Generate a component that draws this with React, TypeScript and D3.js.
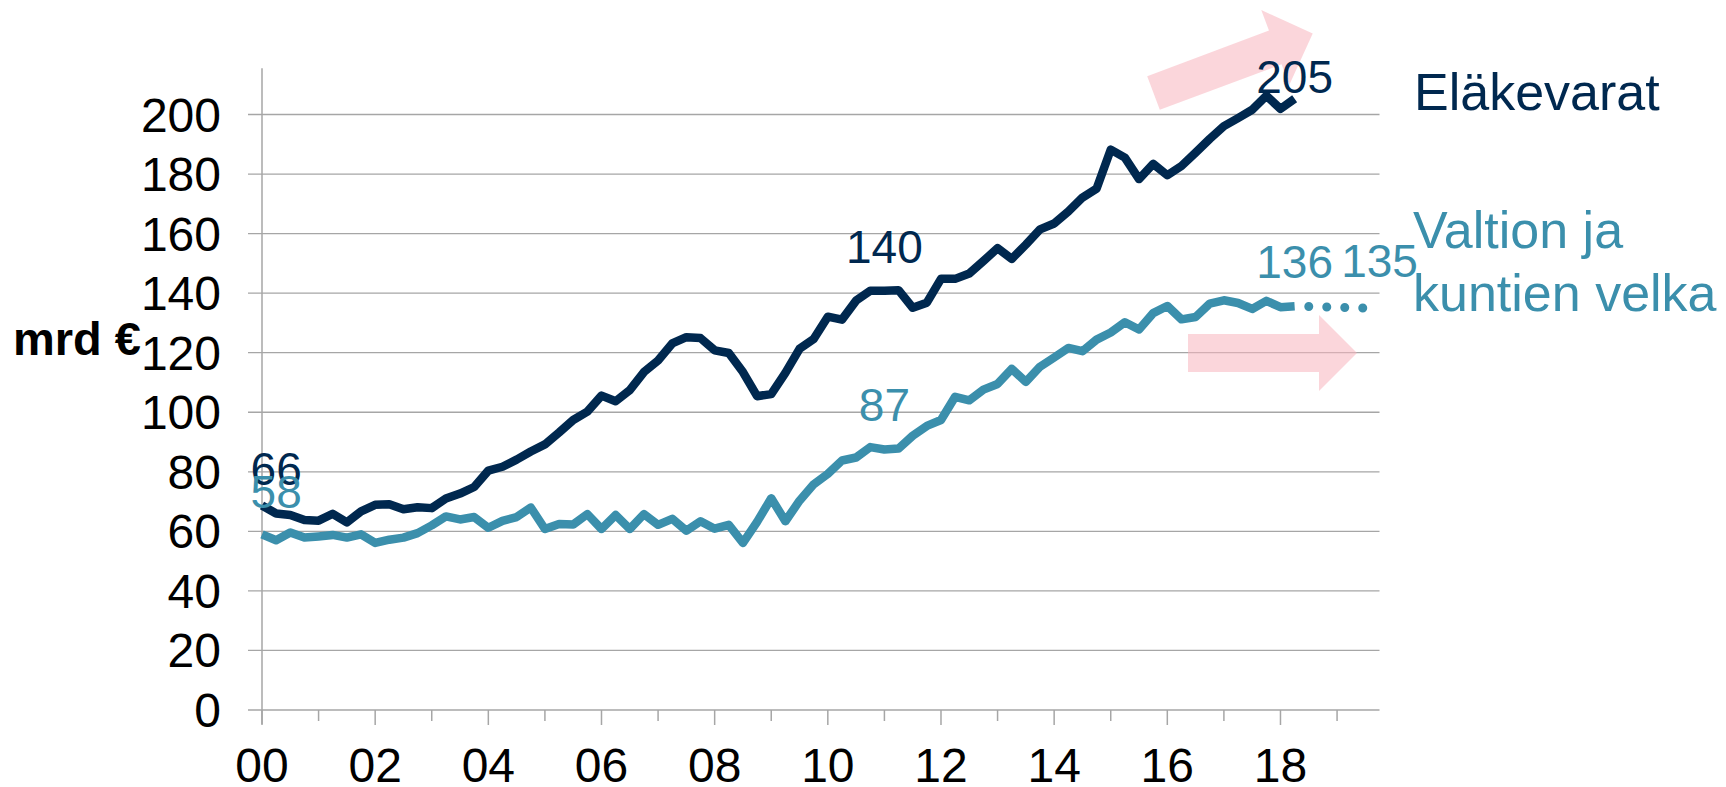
import React from "react";
import * as d3 from "d3";

// ---- Data (billion €, quarterly 2000Q1 … 2018Q2) ----
const years: number[] = [2000, 2001, 2002, 2003, 2004, 2005, 2006, 2007, 2008, 2009, 2010, 2011, 2012, 2013, 2014, 2015, 2016, 2017, 2018, 2019];
const quarterNames: string[] = ["Q1", "Q2", "Q3", "Q4"];
const categories: string[] = years.flatMap((y) => quarterNames.map((q) => `${y}${q}`));

const elakevarat: number[] = [
  68.7, 66.0, 65.5, 63.8, 63.6, 65.9, 63.0, 66.7, 68.9, 69.1, 67.4, 68.1, 67.8, 71.0, 72.7, 74.9,
  80.4, 81.7, 84.1, 86.8, 89.2, 93.2, 97.4, 100.2, 105.6, 103.7, 107.4, 113.5, 117.4, 123.1, 125.2, 124.9,
  120.8, 119.9, 113.5, 105.4, 106.1, 113.2, 121.3, 124.6, 132.1, 131.1, 137.5, 140.8, 140.8, 141.0, 135.1, 136.8,
  144.8, 144.8, 146.6, 150.8, 155.1, 151.5, 156.3, 161.4, 163.4, 167.4, 172.1, 175.1, 188.2, 185.5, 178.3, 183.4,
  179.6, 182.7, 187.2, 191.8, 196.1, 198.8, 201.6, 206.3, 201.9, 205.3,
];

const velka: number[] = [
  59.0, 57.0, 59.6, 57.9, 58.3, 58.8, 57.9, 59.0, 56.1, 57.2, 57.9, 59.4, 62.0, 65.0, 64.0, 64.8,
  61.2, 63.5, 64.8, 68.0, 60.8, 62.5, 62.3, 65.8, 60.8, 65.5, 60.8, 65.8, 62.2, 64.2, 60.2, 63.4,
  60.9, 62.2, 56.1, 63.2, 71.1, 63.4, 70.3, 75.8, 79.3, 83.8, 84.8, 88.3, 87.5, 87.8, 92.1, 95.4,
  97.4, 105.2, 104.0, 107.6, 109.5, 114.6, 110.2, 115.3, 118.4, 121.6, 120.5, 124.4, 126.8, 130.2, 127.8, 133.3,
  135.7, 131.2, 132.0, 136.5, 137.6, 136.7, 134.7, 137.4, 135.3, 135.6,
];

const ennusteCategories: string[] = ["2018Q3", "2019Q3"];
const velkaEnnuste: number[] = [135.5, 135];

const yTicks: number[] = [0, 20, 40, 60, 80, 100, 120, 140, 160, 180, 200];
const xTickLabels: string[] = ["00", "02", "04", "06", "08", "10", "12", "14", "16", "18"];

type Ann = { text: string; cat: string; value: number; dy: number; series: "dark" | "light" };
const annotations: Ann[] = [
  { text: "66", cat: "2000Q2", value: 66, dy: -28, series: "dark" },
  { text: "58", cat: "2000Q2", value: 58, dy: -29, series: "light" },
  { text: "140", cat: "2011Q1", value: 140, dy: -30, series: "dark" },
  { text: "87", cat: "2011Q1", value: 87, dy: -30, series: "light" },
  { text: "205", cat: "2018Q2", value: 205, dy: -7, series: "dark" },
  { text: "136", cat: "2018Q2", value: 136, dy: -27, series: "light" },
  { text: "135", cat: "2019Q4", value: 135, dy: -31, series: "light" },
];

const DARK = "#00284f";
const LIGHT = "#3b8fac";
const GRID = "#a6a6a6";
const FONT = "'Liberation Sans', Arial, sans-serif";

function blockArrow(cx: number, cy: number, len: number, angleDeg: number, shaftW: number, headW: number, headL: number) {
  const a = (angleDeg * Math.PI) / 180;
  const ux = Math.cos(a), uy = Math.sin(a);
  const px = -uy, py = ux;
  const pts: [number, number][] = [
    [0, -shaftW / 2], [len - headL, -shaftW / 2], [len - headL, -headW / 2], [len, 0],
    [len - headL, headW / 2], [len - headL, shaftW / 2], [0, shaftW / 2],
  ];
  return pts.map(([s, t]) => `${cx + ux * s + px * t},${cy + uy * s + py * t}`).join(" ");
}

export default function App() {
  const width = 1726, height = 787;
  const x = d3.scalePoint<string>().domain(categories).range([262, 1379.5]);
  const y = d3.scaleLinear().domain([0, 200]).range([710, 114.5]);
  const plotLeft = 262, plotRight = 1379.5;
  const axisTop = y(215.5);

  const line = d3.line<number>()
    .x((_, i) => x(categories[i]) as number)
    .y((d) => y(d))
    .curve(d3.curveLinear);

  const fLine = d3.line<number>()
    .x((_, i) => x(ennusteCategories[i]) as number)
    .y((d) => y(d));

  const yearTicks = categories.filter((c) => c.endsWith("Q1"));

  return (
    <svg width={width} height={height} style={{ position: "absolute", left: 0, top: 0, background: "#fff" }}>
      {/* gridlines + y tick marks */}
      {yTicks.map((t) => (
        <line key={"g" + t} x1={plotLeft - 14} x2={plotRight} y1={y(t)} y2={y(t)} stroke={GRID} strokeWidth={1.3} />
      ))}
      {/* y axis */}
      <line x1={plotLeft} x2={plotLeft} y1={axisTop} y2={y(0) + 14} stroke={GRID} strokeWidth={1.5} />
      {/* x ticks */}
      {yearTicks.map((c, i) => (
        <line key={"xt" + c} x1={x(c)} x2={x(c)} y1={y(0)} y2={y(0) + (i % 2 === 0 ? 15 : 11)} stroke={GRID} strokeWidth={1.5} />
      ))}
      {/* y tick labels */}
      {yTicks.map((t) => (
        <text key={"yl" + t} x={221} y={y(t) + 17} textAnchor="end" fontFamily={FONT} fontSize={48} fill="#000">{t}</text>
      ))}
      {/* x tick labels */}
      {xTickLabels.map((l, i) => (
        <text key={"xl" + l} x={x(categories[i * 8])} y={782} textAnchor="middle" fontFamily={FONT} fontSize={48} fill="#000">{l}</text>
      ))}
      <text x={13} y={355} fontFamily={FONT} fontSize={47} fontWeight="bold" fill="#000">mrd €</text>

      {/* pink trend arrows */}
      <polygon points={blockArrow(1153.5, 93, 170, -20.5, 36, 80, 40)} fill="rgb(247,180,190)" fillOpacity={0.55} />
      <polygon points={blockArrow(1188, 353, 169, 0, 38, 76, 38)} fill="rgb(247,180,190)" fillOpacity={0.55} />

      {/* series */}
      <path d={line(velka) || ""} fill="none" stroke={LIGHT} strokeWidth={8.5} strokeLinejoin="round" />
      <path d={fLine(velkaEnnuste) || ""} fill="none" stroke={LIGHT} strokeWidth={9} strokeLinecap="round" strokeDasharray="0 18" />
      <path d={line(elakevarat) || ""} fill="none" stroke={DARK} strokeWidth={8.5} strokeLinejoin="round" />

      {/* value labels */}
      {annotations.map((a) => (
        <text key={a.text + a.cat} x={x(a.cat)} y={y(a.value) + a.dy} textAnchor="middle" fontFamily={FONT} fontSize={46}
          fill={a.series === "dark" ? DARK : LIGHT}>{a.text}</text>
      ))}

      {/* series names */}
      <text x={1414} y={110} fontFamily={FONT} fontSize={52} fill={DARK}>Eläkevarat</text>
      <text x={1413} y={248} fontFamily={FONT} fontSize={52} fill={LIGHT}>Valtion ja</text>
      <text x={1413} y={311} fontFamily={FONT} fontSize={52} fill={LIGHT}>kuntien velka</text>
    </svg>
  );
}
